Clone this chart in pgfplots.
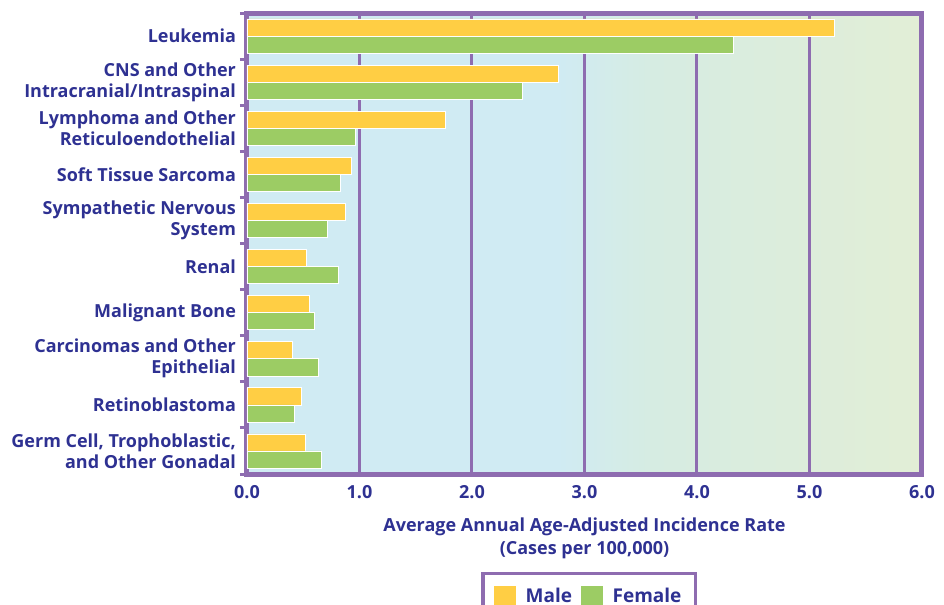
\documentclass[border=0pt]{standalone}
\usepackage{pgfplots}
\usepackage{pgfplotstable}
\pgfplotsset{compat=1.18}
\usepackage{fontspec}
\setmainfont{Open Sans}
\usetikzlibrary{calc}
\definecolor{navy}{RGB}{46,49,146}
\definecolor{frame}{RGB}{142,108,176}
\definecolor{maleC}{RGB}{255,206,68}
\definecolor{femaleC}{RGB}{156,204,100}
\definecolor{bgblue}{RGB}{208,235,243}
\definecolor{bgmid}{RGB}{214,236,226}
\definecolor{bggreen}{RGB}{226,238,214}
\pgfdeclarehorizontalshading{bgshade}{100bp}{color(0bp)=(bgblue); color(25bp)=(bgblue); color(48bp)=(bgblue); color(55bp)=(bgmid); color(75bp)=(bggreen); color(100bp)=(bggreen)}
\pgfplotstableread{
y   male  female
0   5.22  4.32
1   2.77  2.45
2   1.76  0.96
3   0.93  0.83
4   0.87  0.71
5   0.53  0.81
6   0.55  0.60
7   0.40  0.63
8   0.48  0.42
9   0.52  0.66
}\datatable
\begin{document}
\begin{tikzpicture}
\begin{axis}[
  scale only axis,
  width=337.5pt, height=230.5pt,
  xmin=0, xmax=6, ymin=-0.5, ymax=9.5,
  y dir=reverse,
  axis background/.style={shading=bgshade},
  axis line style={draw=frame, line width=2.5pt},
  xtick={0,1,...,6},
  xticklabel={\pgfmathprintnumber[fixed,fixed zerofill,precision=1]{\tick}},
  /pgf/number format/assume math mode=true,
  xtick style={draw=none},
  xmajorgrids,
  major grid style={draw=frame, line width=1.5pt},
  ytick={0,...,9},
  yticklabels={Leukemia,
    {CNS and Other\\Intracranial/Intraspinal},
    {Lymphoma and Other\\Reticuloendothelial},
    Soft Tissue Sarcoma,
    {Sympathetic Nervous\\System},
    Renal,
    Malignant Bone,
    {Carcinomas and Other\\Epithelial},
    Retinoblastoma,
    {Germ Cell, Trophoblastic,\\and Other Gonadal}},
  major tick length=0pt,
  minor ytick={-0.5,0.5,...,9.5},
  minor tick length=3.5pt,
  ytick pos=left,
  tick align=outside,
  minor tick style={draw=frame, line width=1.5pt},
  yticklabel style={align=right, font=\bfseries\fontsize{9}{10.5}\selectfont, text=navy, xshift=-2pt},
  xticklabel style={font=\bfseries\fontsize{9}{10.5}\selectfont, text=navy, yshift=-2pt},
  xlabel={Average Annual Age-Adjusted Incidence Rate\\(Cases per 100,000)},
  xlabel style={align=center, font=\bfseries\fontsize{9}{11.5}\selectfont, text=navy, yshift=-3pt},
  legend style={at={(0.507,-0.2126)}, anchor=north, draw=frame, line width=1.6pt,
    fill=white, font=\bfseries\fontsize{9.5}{10.5}\selectfont, text=navy,
    legend columns=2, inner xsep=5pt, inner ysep=5pt,
    /tikz/every odd column/.append style={column sep=2.5pt},
    /tikz/every even column/.append style={column sep=2pt}},
  legend image code/.code={\fill[#1] (0pt,-5.75pt) rectangle (11.5pt,5.75pt);},
  legend cell align=left,
  clip=false,
]
\addplot[xbar, bar width=0.37, bar shift=0pt, fill=maleC, draw=white, line width=0.3pt]
  table[x=male, y expr=\thisrow{y}-0.185] {\datatable};
\addlegendentry{Male}
\addplot[xbar, bar width=0.37, bar shift=0pt, fill=femaleC, draw=white, line width=0.3pt]
  table[x=female, y expr=\thisrow{y}+0.185] {\datatable};
\addlegendentry{Female}
\coordinate (sw) at (axis cs:0,9.5);
\coordinate (ne) at (axis cs:6,-0.5);
\end{axis}
\pgfresetboundingbox
\useasboundingbox ($(sw)+(-123.5pt,-65.5pt)$) rectangle ($(ne)+(11pt,6.5pt)$);
\end{tikzpicture}
\end{document}
